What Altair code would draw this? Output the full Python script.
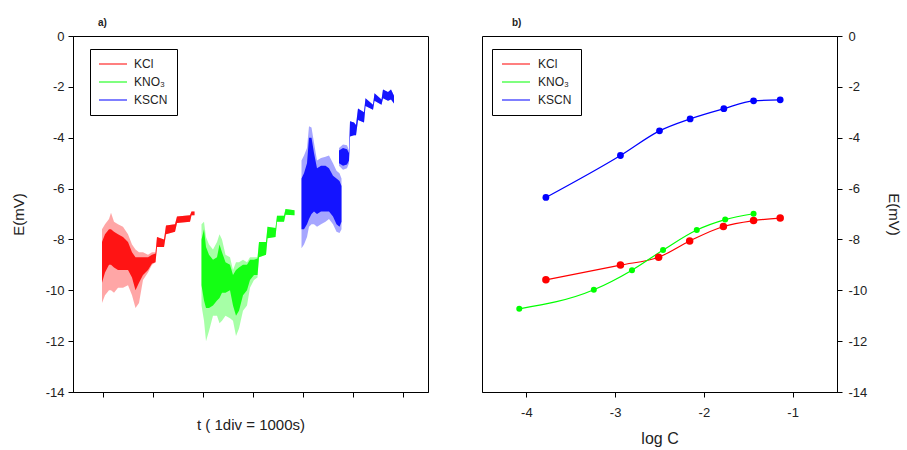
import altair as alt
import pandas as pd

SERIES = ["KCl", "KNO₃", "KSCN"]
COLORS = ["#ff0000", "#00ff00", "#0000ff"]

# ---------- panel a) : potential vs time (envelopes read from the picture) ----------
# KCl
kcl_t = [0.98, 1.04, 1.12, 1.16, 1.22, 1.30, 1.40, 1.50, 1.58, 1.65, 1.72, 1.80, 1.90,
         1.98, 2.05, 2.08, 2.22, 2.26, 2.44, 2.48, 2.74, 2.77, 2.83]
kcl_hi = [-7.6, -7.4, -7.2, -6.95, -7.3, -7.4, -7.5, -7.8, -8.2, -8.4, -8.5, -8.5, -8.6,
          -8.5, -8.5, -7.9, -8.0, -7.45, -7.4, -7.1, -7.05, -6.9, -6.9]
kcl_lo = [-10.5, -10.2, -10.0, -10.0, -10.1, -9.9, -9.9, -9.8, -10.2, -10.7, -10.5, -9.6, -9.3,
          -9.0, -8.9, -8.3, -8.3, -7.8, -7.7, -7.35, -7.3, -7.05, -7.05]
kcl_chi = [-8.1, -7.8, -7.6, -7.6, -7.7, -7.8, -7.9, -8.1, -8.5, -8.7, -8.7, -8.7, -8.7,
           -8.6, -8.55, -7.9, -8.0, -7.45, -7.4, -7.1, -7.05, -6.9, -6.9]
kcl_clo = [-9.7, -9.3, -9.0, -9.0, -9.1, -9.2, -9.2, -9.2, -9.5, -10.0, -9.7, -9.4, -9.2,
           -8.95, -8.9, -8.3, -8.3, -7.8, -7.7, -7.35, -7.3, -7.05, -7.05]
kcl_seg = [1] * 23

# KNO3
kno3_t = [2.97, 3.02, 3.06, 3.12, 3.20, 3.28, 3.33, 3.38, 3.45, 3.54, 3.60, 3.66, 3.72,
          3.80, 3.88, 3.94, 4.02, 4.09, 4.12, 4.26, 4.29, 4.45, 4.48, 4.62, 4.65, 4.83]
kno3_hi = [-7.4, -7.3, -7.9, -8.2, -8.4, -8.1, -7.8, -8.0, -8.6, -8.7, -9.2, -8.9, -8.9,
           -8.8, -8.9, -8.7, -8.7, -8.7, -8.1, -8.1, -7.5, -7.55, -7.07, -7.07, -6.8, -6.85]
kno3_lo = [-10.6, -11.2, -12.0, -11.6, -11.0, -11.0, -11.3, -11.2, -11.0, -11.1, -11.2, -11.8, -11.5,
           -10.8, -10.6, -9.9, -9.6, -9.5, -8.7, -8.6, -7.95, -7.9, -7.3, -7.3, -7.03, -7.05]
kno3_chi = [-8.0, -7.6, -8.3, -8.6, -8.8, -8.7, -8.2, -8.5, -8.9, -9.0, -9.4, -9.2, -9.1,
            -9.0, -9.0, -8.8, -8.8, -8.75, -8.1, -8.1, -7.5, -7.55, -7.07, -7.07, -6.8, -6.85]
kno3_clo = [-9.8, -10.4, -10.7, -10.7, -10.6, -10.4, -10.3, -10.1, -10.1, -10.0, -10.6, -11.0, -10.8,
            -10.2, -10.0, -9.6, -9.4, -9.4, -8.7, -8.6, -7.95, -7.9, -7.3, -7.3, -7.03, -7.05]
kno3_seg = [1] * 26

# KSCN (two pieces)
kscn_t = [4.97, 5.02, 5.08, 5.12, 5.17, 5.22, 5.28, 5.36, 5.45, 5.52, 5.60, 5.67, 5.73, 5.77,
          5.72, 5.80, 5.88, 5.92, 5.94, 6.02, 6.06, 6.10, 6.22, 6.25, 6.40, 6.43, 6.57, 6.60, 6.70, 6.76, 6.82]
kscn_hi = [-4.9, -4.7, -4.4, -3.55, -3.6, -4.2, -4.9, -4.8, -4.75, -4.7, -5.0, -5.3, -5.4, -5.6,
           -4.4, -4.27, -4.3, -4.5, -3.35, -3.4, -3.5, -2.85, -3.0, -2.45, -2.7, -2.25, -2.5, -2.1, -2.2, -2.1, -2.35]
kscn_lo = [-8.35, -8.2, -7.9, -7.5, -7.4, -7.4, -7.5, -7.4, -7.3, -7.2, -7.4, -7.7, -7.75, -7.6,
           -5.1, -5.26, -5.2, -5.0, -3.95, -3.9, -3.9, -3.3, -3.4, -2.75, -2.9, -2.55, -2.7, -2.45, -2.55, -2.5, -2.65]
kscn_chi = [-5.6, -5.4, -5.0, -4.0, -4.0, -4.6, -5.2, -5.1, -5.1, -5.2, -5.5, -5.6, -5.7, -5.9,
            -4.5, -4.4, -4.45, -4.6, -3.35, -3.4, -3.5, -2.85, -3.0, -2.45, -2.7, -2.25, -2.5, -2.1, -2.2, -2.1, -2.35]
kscn_clo = [-7.6, -7.6, -7.4, -7.2, -7.0, -6.9, -7.0, -6.9, -6.9, -6.9, -7.1, -7.4, -7.5, -7.3,
            -5.0, -5.1, -5.05, -4.9, -3.95, -3.9, -3.9, -3.3, -3.4, -2.75, -2.9, -2.55, -2.7, -2.45, -2.55, -2.5, -2.65]
kscn_seg = [1] * 14 + [2] * 17

# ---------- panel b) : potential vs log C ----------
kcl_logc = [-3.78, -2.94, -2.51, -2.16, -1.78, -1.44, -1.14]
kcl_e = [-9.59, -9.01, -8.70, -8.06, -7.49, -7.26, -7.16]
kno3_logc = [-4.08, -3.24, -2.81, -2.46, -2.08, -1.76, -1.44]
kno3_e = [-10.73, -9.98, -9.21, -8.42, -7.63, -7.22, -6.99]
kscn_logc = [-3.78, -2.94, -2.50, -2.155, -1.775, -1.44, -1.14]
kscn_e = [-6.35, -4.70, -3.73, -3.26, -2.86, -2.55, -2.51]

MARKER_SIZES = {"KCl": 56, "KNO₃": 36, "KSCN": 46}

# ---------- tables ----------
rows_a = []
for name, t, lo, hi, clo, chi, seg in [
    ("KCl", kcl_t, kcl_lo, kcl_hi, kcl_clo, kcl_chi, kcl_seg),
    ("KNO₃", kno3_t, kno3_lo, kno3_hi, kno3_clo, kno3_chi, kno3_seg),
    ("KSCN", kscn_t, kscn_lo, kscn_hi, kscn_clo, kscn_chi, kscn_seg),
]:
    for i in range(len(t)):
        rows_a.append({"series": name, "key": f"{name}-{seg[i]}", "t": t[i],
                       "lo": lo[i], "hi": hi[i], "clo": clo[i], "chi": chi[i]})
df_a = pd.DataFrame(rows_a)

rows_b = []
for name, xs, ys in [("KCl", kcl_logc, kcl_e), ("KNO₃", kno3_logc, kno3_e), ("KSCN", kscn_logc, kscn_e)]:
    for x, y in zip(xs, ys):
        rows_b.append({"series": name, "logc": x, "E": y})
df_b = pd.DataFrame(rows_b)

FONT = "Liberation Sans"
MINUS = "datum.value < 0 ? '-' + abs(datum.value) : '' + datum.value"
Y_VALUES = list(range(-14, 1, 2))


def legend(x, y, symbol, stroke_width):
    return alt.Legend(title=None, orient="none", legendX=x, legendY=y, direction="vertical",
                      strokeColor="black", fillColor="white", padding=9,
                      symbolType=symbol, symbolSize=784, clipHeight=12, rowPadding=6,
                      labelOffset=7, labelFontSize=12, labelFont=FONT, labelColor="#222",
                      symbolOpacity=1, symbolStrokeWidth=stroke_width)


color_a = alt.Color("series:N", scale=alt.Scale(domain=SERIES, range=COLORS),
                    legend=legend(17, 13, "M-1,-0.028H1V0.028H-1Z", 0))
x_a = alt.X("t:Q", scale=alt.Scale(domain=[0.4, 7.5], nice=False, zero=False),
            axis=alt.Axis(values=[1, 2, 3, 4, 5, 6, 7], labels=False, title="t ( 1div = 1000s)",
                          titlePadding=20, titleFontSize=15))
y_axis_a = alt.Axis(values=Y_VALUES, labelExpr=MINUS, title="E(mV)", titleX=-55,
                    titleBaseline="middle", labelPadding=4)
y_scale = alt.Scale(domain=[-14, 0], nice=False)

core = alt.Chart(df_a).mark_area(opacity=0.88).encode(
    x=x_a,
    y=alt.Y("clo:Q", scale=y_scale, axis=y_axis_a),
    y2="chi:Q",
    color=color_a,
    detail="key:N",
)
outer = alt.Chart(df_a).mark_area(opacity=0.35).encode(
    x=x_a,
    y=alt.Y("lo:Q", scale=y_scale, axis=y_axis_a),
    y2="hi:Q",
    color=color_a,
    detail="key:N",
)
left = alt.layer(core, outer).properties(
    width=355, height=356,
    title=alt.TitleParams("a)", anchor="start", frame="group", dx=25, offset=2, fontSize=10,
                          fontWeight="bold", font=FONT, color="#222"),
)

x_b = alt.X("logc:Q", scale=alt.Scale(domain=[-4.5, -0.5], nice=False, zero=False),
            axis=alt.Axis(values=[-4, -3, -2, -1], labelExpr=MINUS, title="log C",
                          titleFontSize=16, labelPadding=9, titlePadding=11))
y_b = alt.Y("E:Q", scale=y_scale,
            axis=alt.Axis(orient="right", values=Y_VALUES, labelExpr=MINUS, title="E(mV)",
                          titleAngle=90, titleX=56, titleBaseline="middle", labelPadding=6))

lines = alt.Chart(df_b).mark_line(interpolate="monotone", strokeWidth=1.2).encode(
    x=x_b, y=y_b,
    color=alt.Color("series:N", scale=alt.Scale(domain=SERIES, range=COLORS),
                    legend=legend(10, 13, "M-1,0H1", 1.2)))
point_layers = [
    alt.Chart(df_b).transform_filter(alt.datum.series == name)
    .mark_circle(opacity=1, color=col, size=MARKER_SIZES[name])
    .encode(x=x_b, y=y_b)
    for name, col in zip(SERIES, COLORS)
]
right = alt.layer(lines, *point_layers).properties(
    width=355, height=356,
    title=alt.TitleParams("b)", anchor="start", frame="group", dx=30, offset=2, fontSize=10,
                          fontWeight="bold", font=FONT, color="#222"),
)

chart = (
    alt.hconcat(left, right, spacing=52)
    .resolve_scale(color="independent")
    .resolve_legend(color="independent")
    .properties(padding={"left": 10, "top": 17, "right": 5, "bottom": 2})
    .configure_view(stroke="black", strokeWidth=1)
    .configure_axis(grid=False, domainColor="black", tickColor="black", labelColor="#222",
                    titleColor="#222", labelFont=FONT, titleFont=FONT, titleFontWeight="normal",
                    labelFontSize=13, titleFontSize=15, tickSize=5)
)

chart.save("out.html", embed_options={"renderer": "svg", "actions": False})
